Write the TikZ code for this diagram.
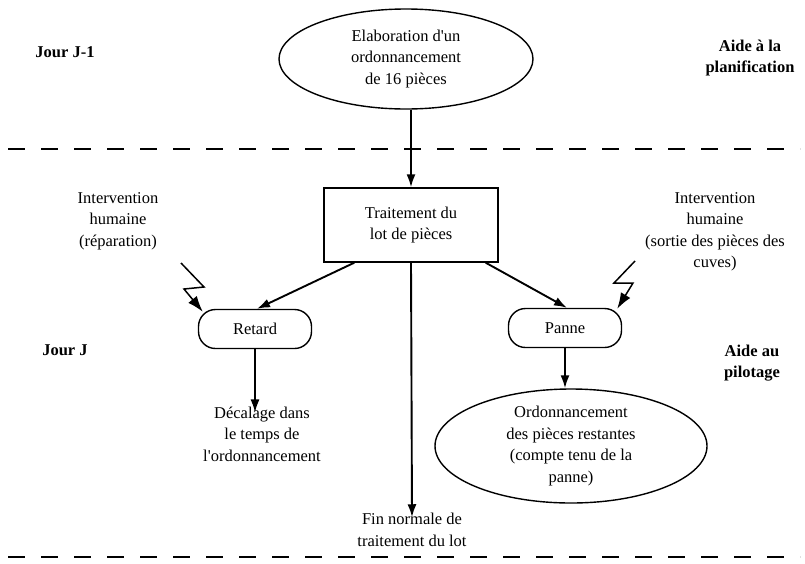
\documentclass[tikz,border=0pt]{standalone}
\usepackage{fontspec}
\setmainfont{Liberation Serif}[Ligatures=TeXOff]
\usetikzlibrary{arrows.meta,shapes.geometric}
\begin{document}
\begin{tikzpicture}[x=1pt,y=-1pt,
  every node/.style={font=\fontsize{16.5}{21.5}\selectfont, align=center, inner sep=0pt},
  lbl/.style={font=\fontsize{16.5}{21.5}\selectfont\bfseries},
  arr/.style={line width=1.9pt, -{Latex[length=13pt,width=9pt]}},
  bolt/.style={line width=1.5pt, line join=miter, -{Latex[length=16pt,width=11pt]}},
  sep/.style={line width=1.8pt, dash pattern=on 17pt off 16pt},
  pill/.style={draw, line width=1.4pt, rounded corners=17pt, minimum width=113pt, minimum height=39pt},
  oval/.style={draw, ellipse, line width=1.4pt}]
\useasboundingbox (0,0) rectangle (805,563);

% separators
\draw[sep] (8,149) -- (800,149);
\draw[sep] (8,557) -- (800,557);

% side labels
\node[lbl] (j1) at (65,52) {Jour J-1};
\node[lbl] (j) at (65,350) {Jour J};
\node[lbl] (aplan) at (750,58) {Aide à la\\planification};
\node[lbl] (apil) at (752,363) {Aide au\\pilotage};

% nodes
\node[oval, minimum width=254pt, minimum height=100pt] (elab) at (406,59) {Elaboration d'un\\ordonnancement\\de 16 pièces};
\node[draw, line width=1.4pt, minimum width=174pt, minimum height=74pt] (trait) at (411,225) {Traitement du\\lot de pièces};
\node[pill] (retard) at (255,329) {Retard};
\node[pill] (panne) at (565,328) {Panne};
\node (decal) at (262,434) {Décalage dans\\le temps de\\l'ordonnancement};
\node (fin) at (412,530) {Fin normale de\\traitement du lot};
\node[oval, minimum width=272pt, minimum height=114pt] (ordo) at (571,446) {Ordonnancement\\des pièces restantes\\(compte tenu de la\\panne)};
\node (intg) at (118,221) {Intervention\\humaine\\(réparation)};
\node (intd) at (715,232) {Intervention\\humaine\\(sortie des pièces des\\cuves)};

% connectors
\draw[arr] (elab.south -| trait.north) -- (trait.north);
\draw[arr] ([xshift=31pt]trait.south west) -- ([xshift=2pt]retard.north);
\draw[arr] ([xshift=-13pt]trait.south east) -- ([xshift=2pt]panne.north);
\draw[arr] (trait.south) -- ([yshift=-4pt]fin.north);
\draw[arr] (retard.south) -- ([yshift=-6pt]decal.north -| retard.south);
\draw[arr] (panne.south) -- (ordo.north -| panne.south);

% lightning bolts
\coordinate (bg1) at (181,263);
\coordinate (bg2) at (204,287);
\coordinate (bg3) at (184,289);
\coordinate (bd1) at (635,261);
\coordinate (bd2) at (614,283);
\coordinate (bd3) at (633,283);
\draw[bolt] (bg1) -- (bg2) -- (bg3) -- ([xshift=5pt,yshift=-3pt]retard.north west);
\draw[bolt] (bd1) -- (bd2) -- (bd3) -- ([xshift=-5pt,yshift=-1pt]panne.north east);
\end{tikzpicture}
\end{document}
